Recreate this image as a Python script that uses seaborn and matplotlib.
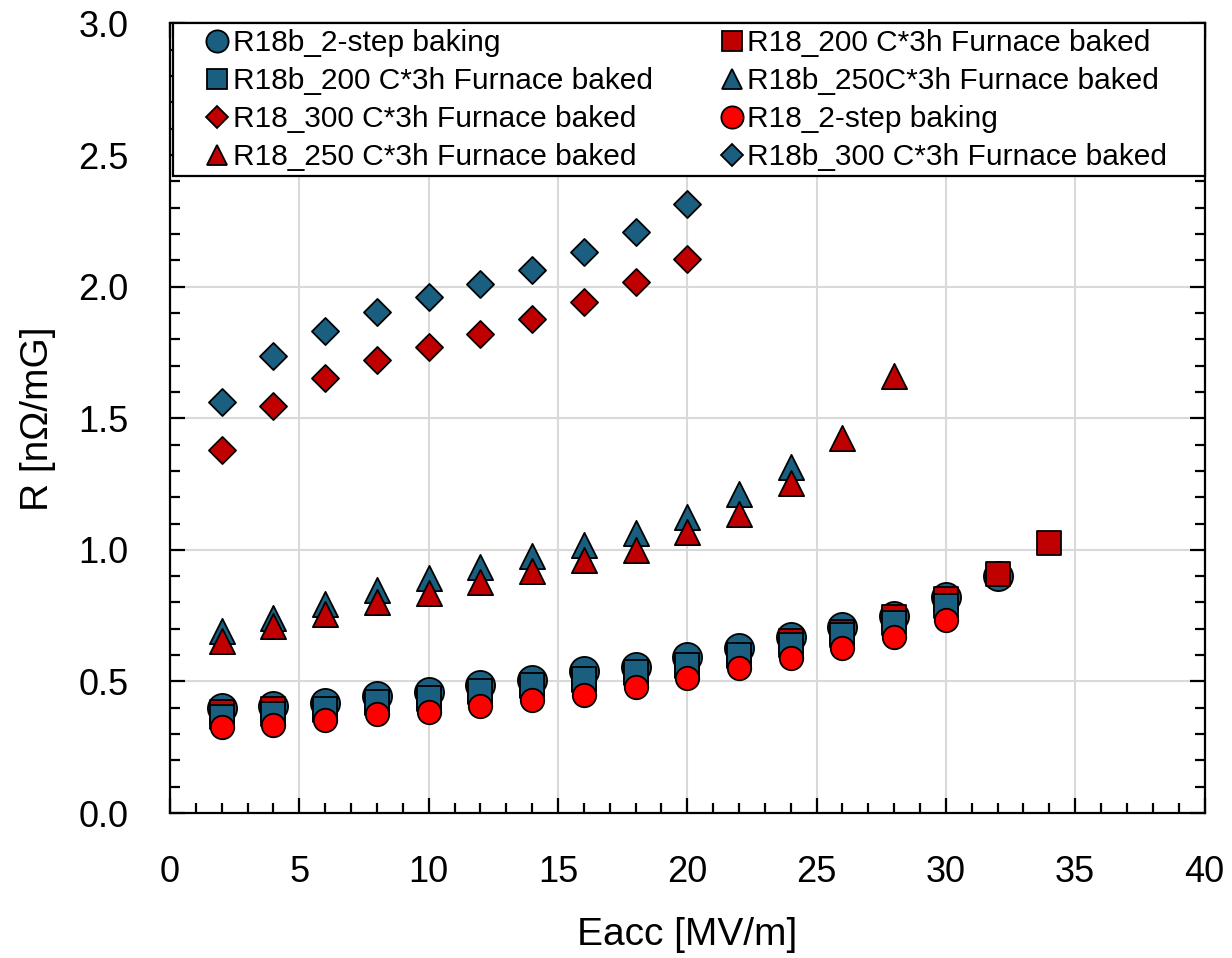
import matplotlib
matplotlib.use("Agg")
import matplotlib.pyplot as plt
from matplotlib.lines import Line2D
from matplotlib.patches import Rectangle
from matplotlib.ticker import MultipleLocator, FormatStrFormatter
import seaborn as sns
import pandas as pd

# ---------------- data ----------------
x_r18b_2step = [2, 4, 6, 8, 10, 12, 14, 16, 18, 20, 22, 24, 26, 28, 30, 32]
y_r18b_2step = [0.398, 0.408, 0.419, 0.444, 0.461, 0.487, 0.506, 0.540, 0.556,
                0.594, 0.628, 0.670, 0.708, 0.750, 0.820, 0.902]

x_r18_200 = [2, 4, 6, 8, 10, 12, 14, 16, 18, 20, 22, 24, 26, 28, 30, 32, 34]
y_r18_200 = [0.384, 0.396, 0.393, 0.419, 0.434, 0.459, 0.482, 0.505, 0.533,
             0.558, 0.596, 0.652, 0.688, 0.745, 0.812, 0.908, 1.027]

x_r18b_200 = [2, 4, 6, 8, 10, 12, 14, 16, 18, 20, 22, 24, 26, 28, 30]
y_r18b_200 = [0.365, 0.377, 0.396, 0.422, 0.437, 0.462, 0.485, 0.508, 0.536,
              0.561, 0.599, 0.637, 0.675, 0.722, 0.787]

x_r18b_250 = [2, 4, 6, 8, 10, 12, 14, 16, 18, 20, 22, 24]
y_r18b_250 = [0.690, 0.740, 0.795, 0.849, 0.892, 0.934, 0.978, 1.020, 1.063,
              1.126, 1.211, 1.316]

x_r18_300 = [2, 4, 6, 8, 10, 12, 14, 16, 18, 20]
y_r18_300 = [1.380, 1.547, 1.652, 1.722, 1.769, 1.821, 1.879, 1.942, 2.016, 2.105]

x_r18_2step = [2, 4, 6, 8, 10, 12, 14, 16, 18, 20, 22, 24, 26, 28, 30]
y_r18_2step = [0.328, 0.334, 0.353, 0.375, 0.385, 0.407, 0.430, 0.450, 0.480,
               0.512, 0.550, 0.588, 0.626, 0.670, 0.733]

x_r18_250 = [2, 4, 6, 8, 10, 12, 14, 16, 18, 20, 22, 24, 26, 28]
y_r18_250 = [0.655, 0.710, 0.755, 0.800, 0.835, 0.877, 0.918, 0.961, 1.000,
             1.069, 1.138, 1.253, 1.424, 1.662]

x_r18b_300 = [2, 4, 6, 8, 10, 12, 14, 16, 18, 20]
y_r18b_300 = [1.563, 1.737, 1.832, 1.905, 1.959, 2.012, 2.064, 2.132, 2.209, 2.315]

labels = ["R18b_2-step baking", "R18_200 C*3h Furnace baked",
          "R18b_200 C*3h Furnace baked", "R18b_250C*3h Furnace baked",
          "R18_300 C*3h Furnace baked", "R18_2-step baking",
          "R18_250 C*3h Furnace baked", "R18b_300 C*3h Furnace baked"]

x_label = "Eacc [MV/m]"
y_label = "R [nΩ/mG]"

# ---------------- style ----------------
BLUE = "#1A5F80"
DRED = "#C00000"
RED = "#FF0000"

series = [
    (x_r18b_2step, y_r18b_2step, "o", BLUE, 440, 16),
    (x_r18_200, y_r18_200, "s", DRED, 300, 14.5),
    (x_r18b_200, y_r18b_200, "s", BLUE, 300, 14.5),
    (x_r18b_250, y_r18b_250, "^", BLUE, 330, 14.5),
    (x_r18_300, y_r18_300, "D", DRED, 190, 11),
    (x_r18_2step, y_r18_2step, "o", RED, 285, 16),
    (x_r18_250, y_r18_250, "^", DRED, 330, 14.5),
    (x_r18b_300, y_r18b_300, "D", BLUE, 190, 11),
]

sns.set_theme(style="white")
plt.rcParams["font.family"] = ["Liberation Sans", "DejaVu Sans"]
plt.rcParams["text.color"] = "black"
plt.rcParams["axes.labelcolor"] = "black"

fig = plt.figure(figsize=(12.32, 9.58), dpi=100)
ax = fig.add_axes([0.1380, 0.1513, 0.8397, 0.8242])

for i, (xs, ys, mk, col, s, _) in enumerate(series):
    df = pd.DataFrame({"x": xs, "y": ys})
    sns.scatterplot(data=df, x="x", y="y", marker=mk, color=col, s=s,
                    edgecolor="black", linewidth=1.3, ax=ax, zorder=3 + i,
                    legend=False)

ax.set_xlim(0, 40)
ax.set_ylim(0, 3.0)
ax.xaxis.set_major_locator(MultipleLocator(5))
ax.xaxis.set_minor_locator(MultipleLocator(1))
ax.yaxis.set_major_locator(MultipleLocator(0.5))
ax.yaxis.set_minor_locator(MultipleLocator(0.1))
ax.yaxis.set_major_formatter(FormatStrFormatter("%.1f"))

ax.grid(True, which="major", color="#D9D9D9", linewidth=1.5, zorder=0)
ax.set_axisbelow(True)

for sp in ax.spines.values():
    sp.set_color("black")
    sp.set_linewidth(1.6)
    sp.set_visible(True)

ax.tick_params(which="both", direction="in", top=True, right=True,
               bottom=True, left=True, colors="black")
ax.tick_params(which="major", length=11, width=1.6, labelsize=26, pad=30)
ax.tick_params(which="minor", length=7.5, width=1.6)

ax.set_xlabel(x_label, fontsize=28, labelpad=20, color="black")
ax.set_ylabel(y_label, fontsize=28, labelpad=16, color="black")

# legend frame (spans the full plot width at the top)
frame = Rectangle((0.0029, 0.8069), 0.9971, 0.1931, transform=ax.transAxes,
                  facecolor="white", edgecolor="black", linewidth=1.6,
                  zorder=19, clip_on=False)
ax.add_patch(frame)

handles = []
for (xs, ys, mk, col, s, ms), lab in zip(series, labels):
    handles.append(Line2D([], [], linestyle="none", marker=mk, markersize=ms,
                          markerfacecolor=col, markeredgecolor="black",
                          markeredgewidth=1.3, label=lab))

order = [0, 2, 4, 6, 1, 3, 5, 7]
h_ord = [handles[i] for i in order]
l_ord = [labels[i] for i in order]

leg = ax.legend(h_ord, l_ord, ncol=2, loc="upper left",
                bbox_to_anchor=(0.028, 1.0), borderaxespad=0, fontsize=21.5,
                frameon=False, labelspacing=0.33, handlelength=0.8,
                handletextpad=0.13, borderpad=0.2, columnspacing=2.24,
                labelcolor="black")
leg.set_zorder(20)

fig.savefig("out.png", dpi=100)
